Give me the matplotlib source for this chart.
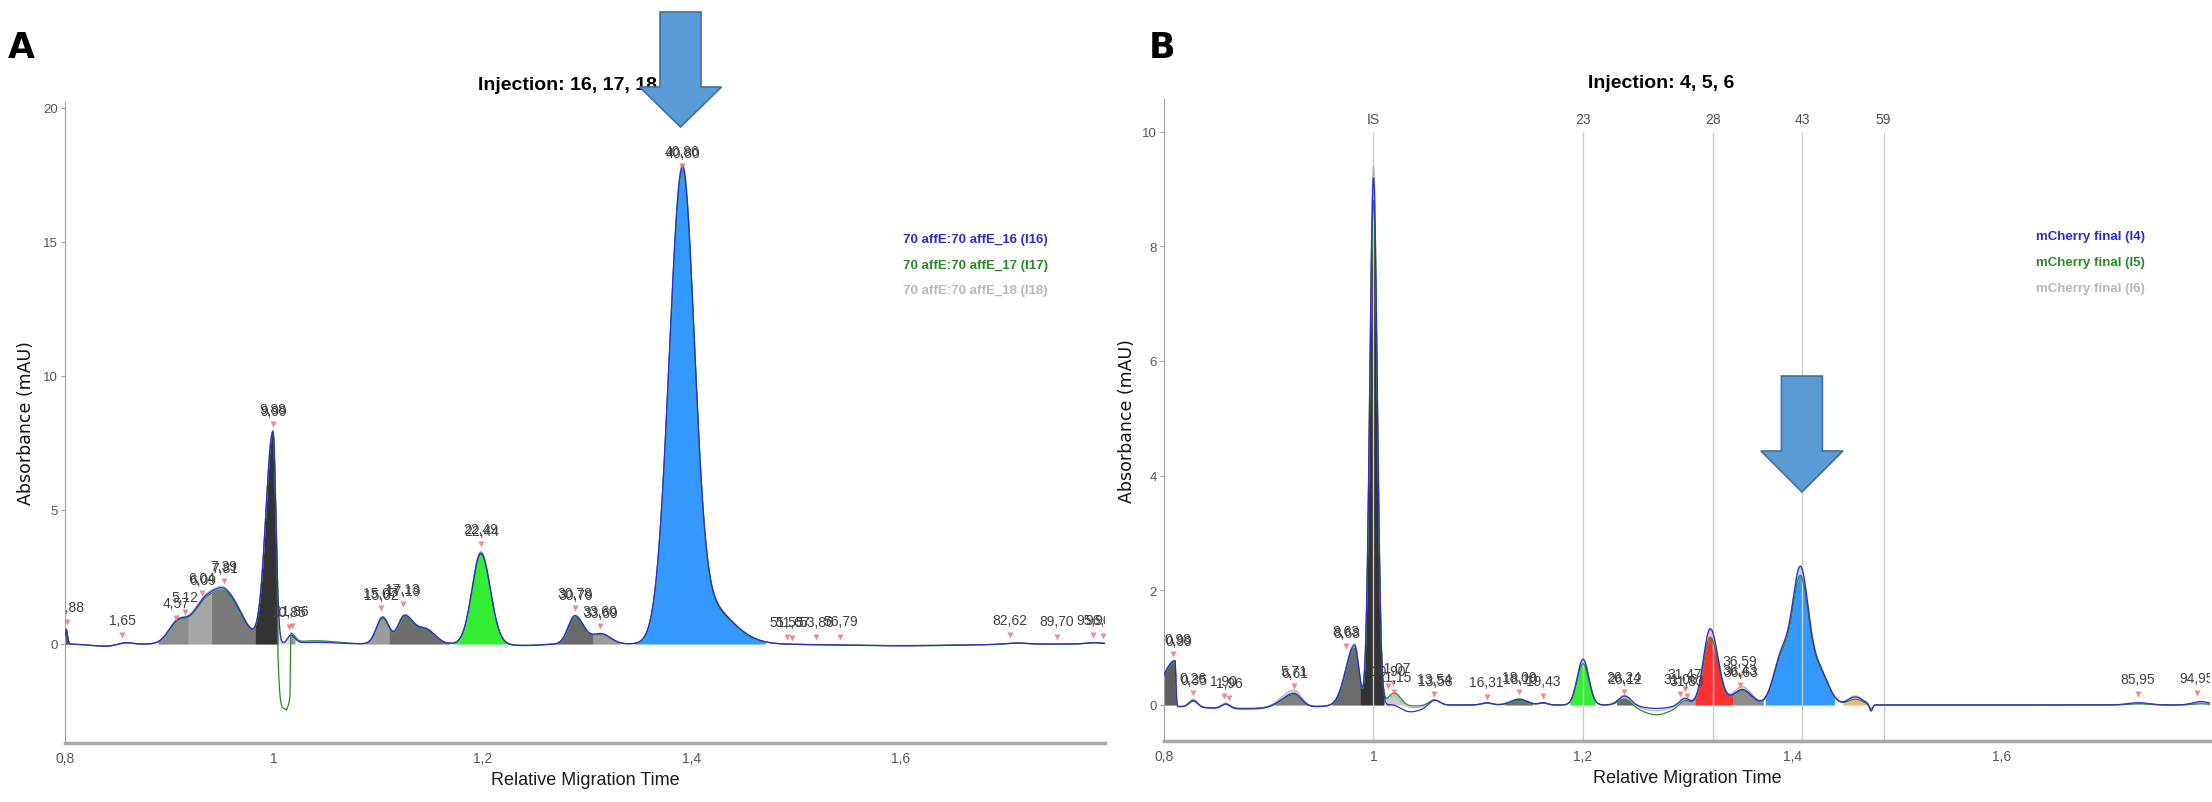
import numpy as np
import matplotlib.pyplot as plt
from matplotlib.patches import Polygon

plt.rcParams['font.family'] = ['Liberation Sans', 'DejaVu Sans']

W, H = 2212, 803

# ---------------- panel A : 70 affE, injections 16 / 17 / 18 ----------------
# peak table: apex (RMT), left/right width, height per injection
a_pos = [0.8012, 0.840, 0.857, 0.908, 0.932, 0.954, 0.9990, 1.016, 1.040, 1.104, 1.1245, 1.145,
         1.198, 1.240, 1.288, 1.313, 1.3905, 1.410, 1.600, 1.710, 1.785]
a_wl = [0.0012, 0.015, 0.007, 0.009, 0.011, 0.012, 0.0068, 0.003, 0.020, 0.006, 0.006, 0.010,
        0.0085, 0.015, 0.0065, 0.009, 0.0125, 0.014, 0.060, 0.010, 0.008]
a_wr = [0.0012, 0.015, 0.007, 0.009, 0.011, 0.015, 0.0028, 0.004, 0.020, 0.006, 0.008, 0.009,
        0.0090, 0.015, 0.008, 0.009, 0.0112, 0.025, 0.060, 0.010, 0.008]
a_i16 = [0.55, -0.09, 0.09, 0.80, 1.33, 1.85, 7.90, 0.30, 0.06, 1.00, 1.00, 0.55,
         3.40, -0.06, 1.05, 0.38, 17.2, 1.60, -0.07, 0.05, 0.05]
a_i17 = [0.50, -0.08, 0.08, 0.76, 1.28, 1.78, 7.85, 0.35, 0.12, 0.95, 0.95, 0.52,
         3.35, -0.05, 1.00, 0.36, 17.1, 1.55, -0.06, 0.04, 0.04]
a_i18 = [0.55, -0.08, 0.09, 0.82, 1.36, 1.90, 7.95, 0.30, 0.08, 1.02, 1.02, 0.56,
         3.45, -0.05, 1.07, 0.39, 17.3, 1.62, -0.06, 0.05, 0.05]
# negative artefact of injection 17 just after the IS peak
a_dip_x = [1.0030, 1.0037, 1.0060, 1.0100, 1.0120, 1.0145, 1.0153, 1.0160]
a_dip_y = [0.0, -2.25, -2.40, -2.50, -2.65, -2.55, -2.30, 0.0]
# integrated regions
a_fill_lo = [0.7990, 0.889, 0.918, 0.940, 0.982, 1.004, 1.087, 1.110, 1.1716, 1.2657, 1.3053, 1.345]
a_fill_hi = [0.8035, 0.918, 0.940, 0.982, 1.004, 1.020, 1.110, 1.168, 1.2326, 1.3053, 1.3309, 1.470]
a_fill_col = ['#4d4d4d', '#8c8c8c', '#a6a6a6', '#7a7a7a', '#333333', '#9a9a9a',
              '#9c9c9c', '#6e6e6e', '#33ee33', '#6a6a6a', '#9a9a9a', '#3399ff']
# peak labels (triangle position, text; "/" = overlapping labels of the injections)
a_lab_x = [0.802, 0.8545, 0.906, 0.915, 0.931, 0.952, 0.999, 1.014, 1.017, 1.102, 1.123, 1.198,
           1.288, 1.312, 1.390, 1.491, 1.496, 1.519, 1.542, 1.704, 1.749, 1.784, 1.793]
a_lab_y = [0.82, 0.34, 0.97, 1.19, 1.90, 2.35, 8.20, 0.63, 0.67, 1.34, 1.49, 3.73,
           1.34, 0.67, 17.84, 0.25, 0.24, 0.25, 0.27, 0.34, 0.27, 0.34, 0.31]
a_lab_txt = ['0,88', '1,65', '4,57', '5,12', '6,04/6,09', '7,39/7,81', '9,88/9,99', '10,85', '11,86',
             '15,07/15,02', '17,13/17,19', '22,49/22,44', '30,78/30,79', '33,60/33,69', '40,86/40,80',
             '51,55', '51,67', '53,86', '56,79', '82,62', '89,70', '95,96', '96,32']
a_legend = ['70 affE:70 affE_16 (I16)', '70 affE:70 affE_17 (I17)', '70 affE:70 affE_18 (I18)']

# ---------------- panel B : mCherry final, injections 4 / 5 / 6 ----------------
b_pos = [0.8105, 0.880, 0.828, 0.859, 0.924, 0.982, 1.000, 1.020, 1.035, 1.058, 1.108, 1.139, 1.162,
         1.200, 1.240, 1.270, 1.297, 1.3215, 1.352, 1.390, 1.4075, 1.425, 1.460, 1.475, 1.730, 1.790]
b_wl = [0.012, 0.05, 0.004, 0.004, 0.012, 0.0085, 0.0036, 0.006, 0.012, 0.005, 0.005, 0.008, 0.004,
        0.0055, 0.006, 0.014, 0.005, 0.0065, 0.009, 0.008, 0.0075, 0.009, 0.007, 0.0015, 0.010, 0.008]
b_wr = [0.0008, 0.05, 0.004, 0.004, 0.007, 0.004, 0.0036, 0.006, 0.012, 0.005, 0.005, 0.008, 0.004,
        0.0055, 0.006, 0.014, 0.005, 0.0075, 0.009, 0.008, 0.0075, 0.009, 0.007, 0.0015, 0.010, 0.008]
b_i4 = [0.80, -0.07, 0.12, 0.08, 0.25, 1.05, 9.20, 0.05, -0.12, 0.10, 0.04, 0.10, 0.04,
        0.80, 0.16, -0.06, 0.12, 1.33, 0.27, 0.85, 2.25, 0.60, 0.14, -0.12, 0.04, 0.06]
b_i5 = [0.78, -0.06, 0.10, 0.07, 0.22, 1.00, 8.80, 0.22, -0.02, 0.09, 0.03, 0.08, 0.03,
        0.72, 0.12, -0.17, 0.10, 1.18, 0.25, 0.80, 2.10, 0.58, 0.10, -0.08, 0.02, 0.02]
b_i6 = [0.80, -0.06, 0.14, 0.09, 0.30, 1.08, 9.40, 0.18, -0.05, 0.10, 0.04, 0.11, 0.04,
        0.78, 0.18, -0.10, 0.14, 1.32, 0.32, 0.88, 2.25, 0.62, 0.16, -0.10, 0.03, 0.04]
b_fill_lo = [0.7990, 0.905, 0.960, 0.987, 1.012, 1.125, 1.1876, 1.232, 1.290, 1.307, 1.343, 1.374, 1.448]
b_fill_hi = [0.8112, 0.945, 0.987, 1.010, 1.030, 1.152, 1.2115, 1.250, 1.307, 1.343, 1.372, 1.440, 1.472]
b_fill_col = ['#5e5e5e', '#808080', '#6b6b6b', '#333333', '#5d6b5d', '#707070', '#33ee33',
              '#6b6b6b', '#a0a0a0', '#ff3030', '#8c8c8c', '#3399ff', '#f4b183']
b_lab_x = [0.809, 0.828, 0.857, 0.862, 0.924, 0.974, 1.014, 1.019, 1.020, 1.058, 1.108, 1.139, 1.162,
           1.239, 1.293, 1.297, 1.299, 1.350, 1.350, 1.730, 1.786]
b_lab_y = [0.89, 0.21, 0.16, 0.12, 0.33, 1.03, 0.33, 0.38, 0.23, 0.19, 0.14, 0.23, 0.16,
           0.23, 0.19, 0.28, 0.16, 0.50, 0.35, 0.19, 0.21]
b_lab_txt = ['0,98/0,99', '0,26/0,35', '1,90', '1,96', '5,71/6,61', '8,63/8,68', '10,90', '11,07', '11,15',
             '13,54/13,58', '16,31', '18,09/18,10', '19,43', '26,24/26,12', '31,06', '31,47', '31,83',
             '36,59', '36,43/36,63', '85,95', '94,95']
b_mark_x = [1.0, 1.2, 1.324, 1.409, 1.487]
b_mark_txt = ['IS', '23', '28', '43', '59']
b_legend = ['mCherry final (I4)', 'mCherry final (I5)', 'mCherry final (I6)']

TRACE_COL = ['#2b2bd8', '#2a8a2a', '#b8b8b8']
NUDGE = {'0,88': 3, '0,98': 3}   # label shifts in points, as in the software export
x = np.linspace(0.79, 1.81, 10201)


def build(pos, wl, wr, hts):
    y = np.zeros_like(x)
    for c, l, r, h in zip(pos, wl, wr, hts):
        s = np.where(x < c, l, r)
        y += h * np.exp(-0.5 * ((x - c) / s) ** 2)
    return y


def comma(v, _=None):
    return '{:g}'.format(round(v, 3)).replace('.', ',')


def draw_panel(ax, traces, fill_lo, fill_hi, fill_col, lab_x, lab_y, lab_txt, legend, leg_x,
               xlim, ylim, yticks):
    lo = np.minimum.reduce(traces)
    hi = np.maximum.reduce(traces)
    for a, b, c in zip(fill_lo, fill_hi, fill_col):
        m = (x >= a) & (x <= b)
        ax.fill_between(x[m], 0, np.clip(hi[m], 0, None), color=c, alpha=0.35, lw=0, zorder=2)
        ax.fill_between(x[m], 0, np.clip(lo[m], 0, None), color=c, lw=0, zorder=2)
    for k in (2, 1, 0):
        ax.plot(x, traces[k], color=TRACE_COL[k], lw=0.9, zorder=3 + 0.1 * (2 - k))

    ax.plot(lab_x, lab_y, 'v', color='#f26b6b', ms=5, alpha=0.8, mec='none', zorder=6)
    for px, py, t in zip(lab_x, lab_y, lab_txt):
        parts = t.split('/')
        for k, s in enumerate(parts):
            dx = NUDGE.get(parts[0], 0) + 0.7 * k
            ax.annotate(s, (px, py), xytext=(dx, 11 - 1.8 * k), textcoords='offset points',
                        ha='center', va='center', fontsize=10, color='#404040',
                        annotation_clip=False, clip_on=True, zorder=6)

    for k, s in enumerate(legend):
        ax.text(leg_x, 0.786 - 0.04 * k, s, transform=ax.transAxes, color=TRACE_COL[k],
                fontsize=9.5, fontweight='bold', va='center', ha='left')

    ax.set_xlim(*xlim)
    ax.set_ylim(*ylim)
    ax.set_xticks([0.8, 1.0, 1.2, 1.4, 1.6])
    ax.set_yticks(yticks)
    ax.xaxis.set_major_formatter(comma)
    ax.yaxis.set_major_formatter(comma)
    for sp in ('top', 'right'):
        ax.spines[sp].set_visible(False)
    ax.spines['left'].set_color('#a0a0a0')
    ax.spines['left'].set_linewidth(0.8)
    ax.spines['bottom'].set_color('#a8a8a8')
    ax.spines['bottom'].set_linewidth(2.5)
    ax.tick_params(axis='y', length=3, width=0.8, color='#a0a0a0', labelsize=9.5,
                   labelcolor='#555555', pad=2)
    ax.tick_params(axis='x', length=0, labelsize=10, labelcolor='#555555', pad=6)
    ax.set_xlabel('Relative Migration Time', fontsize=13, color='#1a1a1a')
    ax.xaxis.set_label_coords(0.5, -0.043)
    ax.xaxis.label.set_va('top')
    ax.set_ylabel('Absorbance (mAU)', fontsize=12.5, family=['DejaVu Sans'], color='#111111')


fig = plt.figure(figsize=(W / 100, H / 100), dpi=100)
axA = fig.add_axes([65 / W, 1 - 744 / H, 1040 / W, 641 / H])
axB = fig.add_axes([1164 / W, 1 - 742 / H, 1046 / W, 642 / H])

tA = [build(a_pos, a_wl, a_wr, h) for h in (a_i16, a_i17, a_i18)]
tA[1] = tA[1] + np.interp(x, a_dip_x, a_dip_y, left=0, right=0)
tB = [build(b_pos, b_wl, b_wr, h) for h in (b_i4, b_i5, b_i6)]

draw_panel(axA, tA, a_fill_lo, a_fill_hi, a_fill_col, a_lab_x, a_lab_y, a_lab_txt, a_legend, 0.806,
           (0.8, 1.7952), (-3.694, 20.22), [0, 5, 10, 15, 20])
draw_panel(axB, tB, b_fill_lo, b_fill_hi, b_fill_col, b_lab_x, b_lab_y, b_lab_txt, b_legend, 0.834,
           (0.8, 1.7986), (-0.628, 10.567), [0, 2, 4, 6, 8, 10])
axA.yaxis.set_label_coords(-0.029, 0.5)
axB.yaxis.set_label_coords(-0.027, 0.5)

# identified peaks in panel B
axB.vlines(b_mark_x, -0.628, 9.99, color='#cccccc', lw=1, zorder=2.5)
for mx, mt in zip(b_mark_x, b_mark_txt):
    axB.text(mx, 10.22, mt, ha='center', va='center', fontsize=10, color='#505050')

fig.text(568 / W, 1 - 86 / H, 'Injection: 16, 17, 18', ha='center', va='center',
         fontsize=14, fontweight='bold')
fig.text(1661 / W, 1 - 84 / H, 'Injection: 4, 5, 6', ha='center', va='center',
         fontsize=14, fontweight='bold')
fig.text(21 / W, 1 - 48 / H, 'A', ha='center', va='center', fontsize=25, fontweight='bold',
         family=['DejaVu Sans'])
fig.text(1162 / W, 1 - 48 / H, 'B', ha='center', va='center', fontsize=25, fontweight='bold',
         family=['DejaVu Sans'])


def block_arrow(ax, xdata, top, neck, tip):
    # big down arrow pointing at a peak; vertical extents in pixels from the top
    fig.canvas.draw()
    cx = ax.transData.transform((xdata, 0))[0]
    pts = [(cx - 20.5, top), (cx + 20.5, top), (cx + 20.5, neck), (cx + 41, neck),
           (cx, tip), (cx - 41, neck), (cx - 20.5, neck)]
    pts = [(px / W, 1 - py / H) for px, py in pts]
    fig.add_artist(Polygon(pts, closed=True, transform=fig.transFigure, facecolor='#5b9bd5',
                           edgecolor='#41719c', lw=1.2, zorder=5))


block_arrow(axA, 1.389, 13, 88, 128)
block_arrow(axB, 1.409, 377, 452, 493)

fig.savefig('out.png', dpi=100)
